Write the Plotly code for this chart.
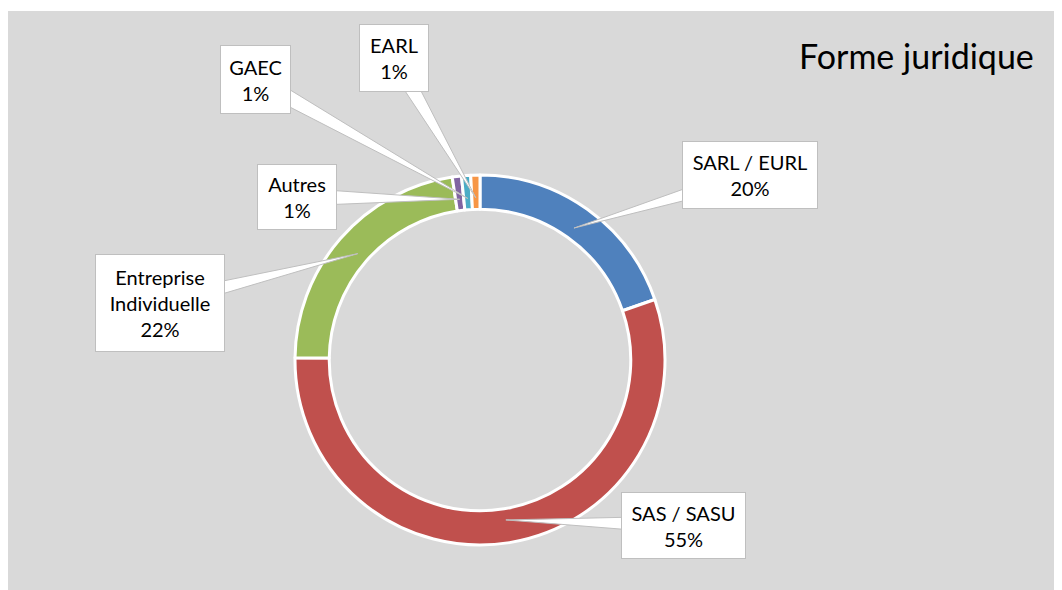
import math
import plotly.graph_objects as go

# ---- data ----
labels = ["SARL / EURL", "SAS / SASU", "Entreprise Individuelle", "Autres", "GAEC", "EARL"]
values = [19.7, 55.5, 22.4, 0.8, 0.8, 0.8]
pct_labels = ["20%", "55%", "22%", "1%", "1%", "1%"]
label_lines = ["SARL / EURL", "SAS / SASU", "Entreprise<br>Individuelle", "Autres", "GAEC", "EARL"]
colors = ["#4F81BD", "#C0504D", "#9BBB59", "#8064A2", "#4BACC6", "#F79646"]
title_text = "Forme juridique"

# ---- layout (screen pixels; page body has an 8px margin) ----
OFF = 8
W, H = 1054, 582
CX, CY, R = 480, 360, 185
HOLE = 0.815
TIP_R = 162
box_centers = [(750, 175), (683, 525), (160, 303), (297, 197), (255, 79), (394, 58)]
box_sizes = [(134, 66), (123, 65), (128, 96), (78, 64), (69, 67), (68, 66)]
FONT = "Lato, 'Open Sans', sans-serif"


def px(x):
    return (x - OFF) / W


def py(y):
    return 1 - (y - OFF) / H


fig = go.Figure()
fig.add_trace(go.Pie(
    labels=labels, values=values, sort=False, direction="clockwise", rotation=0,
    hole=HOLE, textinfo="none", hoverinfo="skip",
    marker=dict(colors=colors, line=dict(color="white", width=3)),
    domain=dict(x=[px(CX - R), px(CX + R)], y=[py(CY + R), py(CY - R)]),
    showlegend=False,
))

shapes = [dict(type="rect", xref="paper", yref="paper", x0=0, x1=1, y0=0, y1=py(11),
               fillcolor="#D9D9D9", line=dict(width=0), layer="below")]
annotations = []

total = sum(values)
cum = 0.0
for i, v in enumerate(values):
    mid = (cum + v / 2) / total * 2 * math.pi
    cum += v
    tx = CX + TIP_R * math.sin(mid)
    ty = CY - TIP_R * math.cos(mid)
    bx, by = box_centers[i]
    dx, dy = tx - bx, ty - by
    d = math.hypot(dx, dy)
    nx, ny = -dy / d, dx / d
    hw = 9
    p1 = (bx + nx * hw, by + ny * hw)
    p2 = (bx - nx * hw, by - ny * hw)
    path = "M {} {} L {} {} L {} {} Z".format(px(p1[0]), py(p1[1]), px(tx), py(ty), px(p2[0]), py(p2[1]))
    shapes.append(dict(type="path", xref="paper", yref="paper", path=path,
                       fillcolor="white", line=dict(color="#BFBFBF", width=1), layer="above"))
    bw, bh = box_sizes[i]
    annotations.append(dict(
        xref="paper", yref="paper", x=px(bx), y=py(by), xanchor="center", yanchor="middle",
        text=label_lines[i] + "<br>" + pct_labels[i], showarrow=False,
        width=bw, height=bh, bgcolor="white", bordercolor="#BFBFBF", borderwidth=1, borderpad=0,
        font=dict(family=FONT, size=20, color="#000000"), align="center",
    ))

annotations.append(dict(
    xref="paper", yref="paper", x=px(1036), y=py(55), xanchor="right", yanchor="middle",
    text=title_text, showarrow=False, font=dict(family=FONT, size=34, color="#000000"),
))

fig.update_layout(
    width=W, height=H, margin=dict(l=0, r=0, t=0, b=0),
    paper_bgcolor="white", plot_bgcolor="white",
    shapes=shapes, annotations=annotations,
)

fig.write_html("out.html")
